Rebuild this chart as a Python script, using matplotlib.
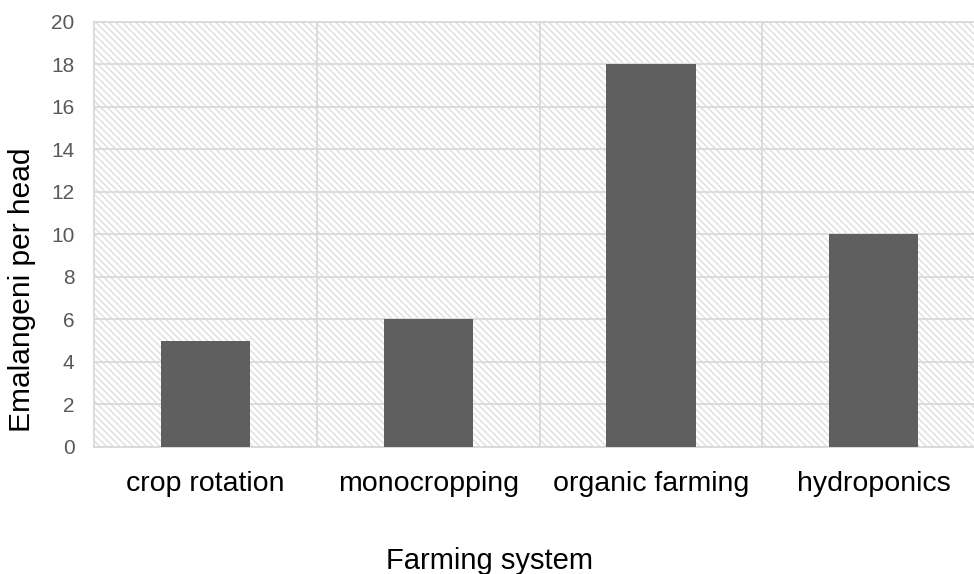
import matplotlib.pyplot as plt
from matplotlib.patches import Rectangle

plt.rcParams['font.family'] = ['Liberation Sans', 'DejaVu Sans']
plt.rcParams['hatch.color'] = '#dedede'
plt.rcParams['hatch.linewidth'] = 1.0

systems = ['crop rotation', 'monocropping', 'organic farming', 'hydroponics']
per_head = [5, 6, 18, 10]
y_ticks = list(range(0, 21, 2))

grid_color = '#d9d9d9'

fig = plt.figure(figsize=(9.74, 5.74), dpi=100)
ax = fig.add_axes([0.0965, 0.2213, 0.915, 0.7404])

# hatched plot background
ax.add_patch(Rectangle((0, 0), 1, 1, transform=ax.transAxes, facecolor='white',
                       edgecolor='#dedede', hatch='\\' * 5, linewidth=0, zorder=0))

x = range(len(systems))
ax.bar(x, per_head, width=0.4, color='#5f5f5f', zorder=3)

ax.set_xlim(-0.5, len(systems) - 0.5)
ax.set_ylim(0, 20)
ax.set_yticks(y_ticks)
ax.set_xticks(list(x))
ax.set_xticklabels(systems, fontsize=20.5, color='#000000')
ax.tick_params(axis='y', labelsize=15, colors='#595959', length=0, pad=14)
ax.tick_params(axis='x', length=0, pad=17)

# gridlines: horizontal at ticks, vertical between categories
ax.yaxis.grid(True, color=grid_color, linewidth=1.3, zorder=1)
for b in [i + 0.5 for i in range(len(systems))]:
    ax.axvline(b, color=grid_color, linewidth=1.3, zorder=1)
ax.set_axisbelow(True)

for side in ['left', 'bottom', 'top', 'right']:
    ax.spines[side].set_color(grid_color)
    ax.spines[side].set_linewidth(1.3)

ax.set_ylabel('Emalangeni per head', fontsize=21.5, va='center')
ax.yaxis.set_label_coords(-0.081, 0.369)
fig.text(0.503, 0.022, 'Farming system', fontsize=21, ha='center', va='center')

fig.savefig('out.png', dpi=100)
